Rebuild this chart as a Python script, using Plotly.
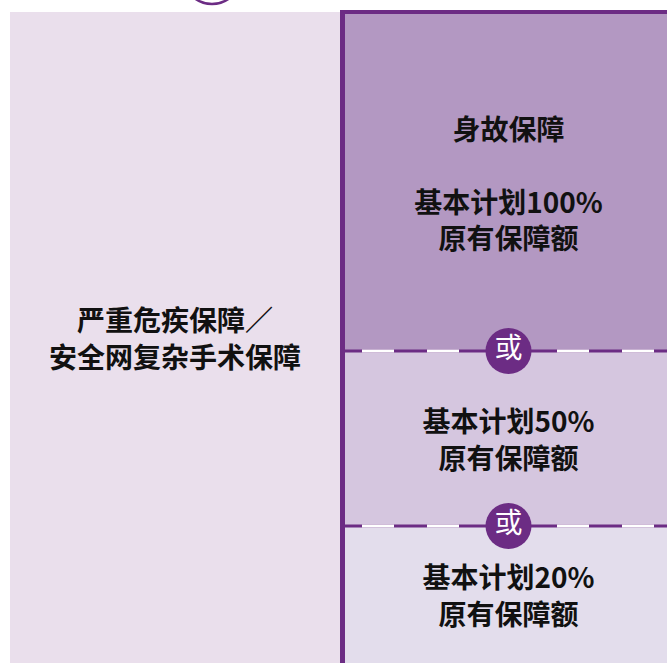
import plotly.graph_objects as go

# ---- content ----
left_label = "严重危疾保障／<br>安全网复杂手术保障"
right_labels = [
    "身故保障<br><br>基本计划100%<br>原有保障额",
    "基本计划50%<br>原有保障额",
    "基本计划20%<br>原有保障额",
]
right_heights = [337, 175, 137]  # block heights (px units)
or_label = "或"

# ---- styles ----
PURPLE = "#6C2C84"
LEFT_COLOR = "#EADFEC"
block_colors = ["#B398C2", "#D5C6DF", "#E3DDEC"]
FONT = "Noto Sans CJK SC"

W, H = 667, 663
top_border_y = 10
top_y = 14
left_top = 12
left_x0, left_x1 = 10, 340
border_w = 5
right_x0 = left_x1 + border_w
right_x1 = 672

bases = []
acc = top_y
for h in right_heights:
    bases.append(acc)
    acc += h
dividers = bases[1:]
mid_x = (right_x0 + right_x1) / 2

fig = go.Figure()

# purple frame (left + top border of right column)
fig.add_trace(go.Bar(
    x=[(left_x1 + right_x1) / 2], y=[H - top_border_y], base=[top_border_y],
    width=[right_x1 - left_x1], marker=dict(color=PURPLE, line=dict(width=0)),
    hoverinfo="skip", showlegend=False))

# left panel
fig.add_trace(go.Bar(
    x=[(left_x0 + left_x1) / 2], y=[H - left_top], base=[left_top],
    width=[left_x1 - left_x0], marker=dict(color=LEFT_COLOR, line=dict(width=0)),
    text=[left_label], textposition="inside", insidetextanchor="middle",
    textangle=0, constraintext="none",
    textfont=dict(family=FONT, size=28, color="#111111", weight="bold"),
    hoverinfo="skip", showlegend=False))

# right blocks
fig.add_trace(go.Bar(
    x=[mid_x] * len(right_heights), y=right_heights, base=bases,
    width=[right_x1 - right_x0] * len(right_heights),
    marker=dict(color=block_colors, line=dict(width=0)),
    text=right_labels, textposition="inside", insidetextanchor="middle",
    textangle=0, constraintext="none",
    textfont=dict(family=FONT, size=28, color="#111111", weight="bold"),
    hoverinfo="skip", showlegend=False))

# dashed dividers: purple base line + white dashes
for d in dividers:
    fig.add_trace(go.Scatter(
        x=[right_x0, right_x1], y=[d, d], mode="lines",
        line=dict(color=PURPLE, width=3), hoverinfo="skip", showlegend=False))
    fig.add_trace(go.Scatter(
        x=[right_x0 + 17, right_x1], y=[d, d], mode="lines",
        line=dict(color="white", width=3, dash="32px,33px"),
        hoverinfo="skip", showlegend=False))

# "或" circles
fig.add_trace(go.Scatter(
    x=[mid_x] * len(dividers), y=dividers, mode="markers+text",
    marker=dict(size=46, color=PURPLE, line=dict(width=0)),
    text=[or_label] * len(dividers), textposition="middle center",
    textfont=dict(family=FONT, size=28, color="white"),
    hoverinfo="skip", showlegend=False, cliponaxis=False))

# partial circle peeking in at the top
top_circle_x, top_circle_r = 212, 29
fig.add_shape(
    type="circle", xref="x", yref="y",
    x0=top_circle_x - top_circle_r, x1=top_circle_x + top_circle_r,
    y0=4 - 2 * top_circle_r, y1=4,
    fillcolor="white", line=dict(color=PURPLE, width=2.5), layer="above")

fig.update_layout(
    width=W, height=H, margin=dict(l=0, r=0, t=0, b=0),
    paper_bgcolor="white", plot_bgcolor="white",
    barmode="overlay", bargap=0, hovermode=False,
    xaxis=dict(range=[0, W], visible=False, fixedrange=True),
    yaxis=dict(range=[H, 0], visible=False, fixedrange=True),
)

fig.write_html("out.html", config={"displayModeBar": False, "staticPlot": True})

# remove the default page margin so the figure sits at the window's top-left
with open("out.html", encoding="utf-8") as f:
    html = f.read()
html = html.replace("<body>", '<body style="margin:0;overflow:hidden">', 1)
with open("out.html", "w", encoding="utf-8") as f:
    f.write(html)
